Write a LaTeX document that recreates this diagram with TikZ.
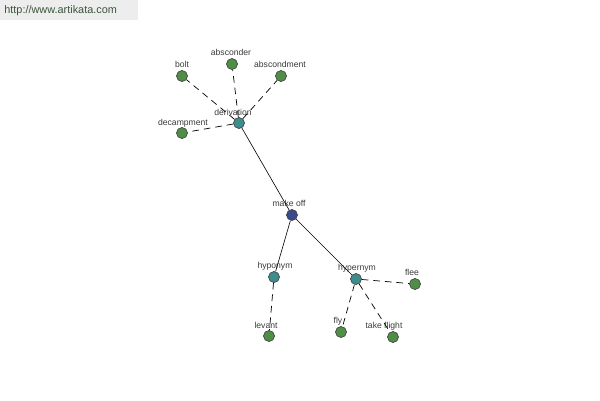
\documentclass[tikz,border=0pt]{standalone}
\usepackage{fontspec}
\setmainfont{Liberation Sans}
\usepackage{xcolor}
\usepackage{tikz}
\usetikzlibrary{calc}
\definecolor{leafgreen}{HTML}{4E8F45}
\definecolor{relteal}{HTML}{3E8C8C}
\definecolor{rootblue}{HTML}{3B4A8E}
\definecolor{labelgray}{HTML}{3A3A3A}
\definecolor{sitetext}{HTML}{3C553C}
\tikzset{every picture/.append style={font=\fontsize{4.9}{5.5}\selectfont},
  dot/.style={circle,draw=black!75,line width=0.35pt,minimum size=6.3pt,inner sep=0pt},
  leaf/.style={dot,fill=leafgreen},
  rel/.style={dot,fill=relteal},
  root/.style={dot,fill=rootblue},
  tag/.style={text=labelgray,inner sep=0pt,anchor=base},
  link/.style={draw=black,line width=0.35pt},
  weak/.style={link,line width=0.4pt,dash pattern=on 3.8pt off 2.8pt}}

\begin{document}
\begin{tikzpicture}[x=0.02cm,y=-0.02cm]
    \useasboundingbox (0,0) rectangle (600,400);
    % site header
    \fill[black!7] (0,0) rectangle (138,20);
    \node[anchor=west,inner sep=0pt,text=sitetext,font=\fontsize{6.2}{7}\selectfont] (site) at (4,11) {http://www.artikata.com};
    % nodes
    \node[root] (makeoff) at (292,215) {};
    \node[rel] (deriv) at (239,123) {};
    \node[rel] (hypo) at (274,277) {};
    \node[rel] (hyper) at (356,279) {};
    \node[leaf] (bolt) at (182,76) {};
    \node[leaf] (abscr) at (232,64) {};
    \node[leaf] (abscm) at (281,76) {};
    \node[leaf] (decamp) at (182,133) {};
    \node[leaf] (levant) at (269,336) {};
    \node[leaf] (flee) at (415,284) {};
    \node[leaf] (fly) at (341,332) {};
    \node[leaf] (takefl) at (393,337) {};
    % labels
    \node[tag] at (289,206) {make off};
    \node[tag] at (233,115) {derivation};
    \node[tag] at (275,268) {hyponym};
    \node[tag] at (357,270) {hypernym};
    \node[tag] at (182,67) {bolt};
    \node[tag] at (231,55) {absconder};
    \node[tag] at (280,67) {abscondment};
    \node[tag] at (183,125) {decampment};
    \node[tag] at (266,328) {levant};
    \node[tag] at (412,275) {flee};
    \node[tag] at (338,323) {fly};
    \node[tag] at (384,328) {take flight};
    % connectors
    \draw[link] (deriv) -- (makeoff);
    \draw[link] (makeoff) -- (hypo);
    \draw[link] (makeoff) -- (hyper);
    \foreach \n in {bolt,abscr,abscm,decamp}
      \draw[weak] (deriv) -- (\n);
    \draw[weak] (hypo) -- (levant);
    \foreach \n in {flee,fly,takefl}
      \draw[weak] (hyper) -- (\n);
  \end{tikzpicture}
\end{document}
